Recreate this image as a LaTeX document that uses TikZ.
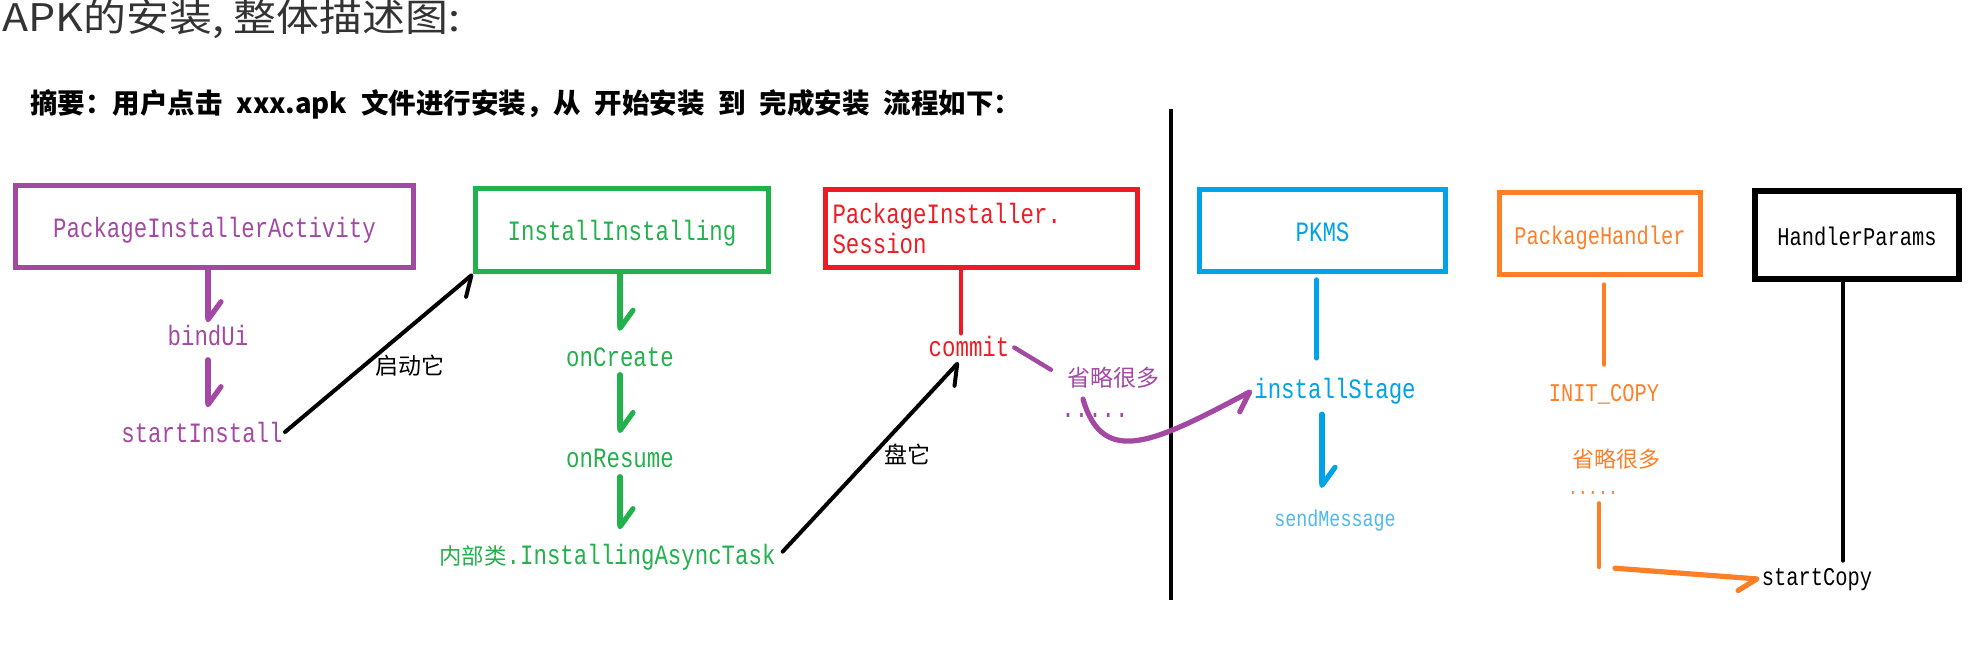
\documentclass[tikz,border=0pt]{standalone}
\usepackage{fontspec}
\setmonofont{Liberation Mono}[FakeStretch=0.8]
\newfontfamily\cjk{Noto Sans CJK SC}
\newfontfamily\cjkwide{Noto Sans CJK SC}[FakeStretch=1.13]
\usepackage{tikz}
\usetikzlibrary{arrows.meta}

\definecolor{apkpurple}{HTML}{A349A4}
\definecolor{apkgreen}{HTML}{22B14C}
\definecolor{apkred}{HTML}{ED1C24}
\definecolor{apkblue}{HTML}{00A2E8}
\definecolor{apklightblue}{HTML}{4FB8EE}
\definecolor{apkorange}{HTML}{FF7F27}
\definecolor{apkgray}{HTML}{333333}

\begin{document}
\begin{tikzpicture}[x=0.5pt, y=-0.5pt,
  frame/.style={draw, line width=2.5pt, inner sep=0pt, font=\ttfamily\fontsize{14}{15}\selectfont},
  box/.style={frame, text height=11pt, text depth=0pt},
  lbl/.style={inner sep=1pt, anchor=base, font=\ttfamily\fontsize{14}{15}\selectfont},
  small/.style={font=\ttfamily\fontsize{12.75}{14}\selectfont},
  note/.style={inner sep=1pt, font=\cjk\fontsize{11.5}{12}\selectfont},
  flow/.style={line width=2.6pt, line cap=round, line join=round, -{Straight Barb[harpoon,round,length=9pt,width=13pt]}},
  flowr/.style={line width=2.6pt, line cap=round, line join=round, -{Straight Barb[harpoon,swap,round,length=9pt,width=13pt]}},
  stem/.style={line width=2.2pt, line cap=round}]

  \useasboundingbox (0,0) rectangle (1980,652);

  \node[anchor=west, inner sep=1pt, text=apkgray, font=\cjkwide\fontsize{19}{20}\selectfont] (title) at (0,19) {APK的安装, 整体描述图:};
  \node[anchor=west, inner sep=1pt, font=\cjk\bfseries\fontsize{13.75}{14}\selectfont] (summary) at (28,104) {摘要：用户点击\enskip xxx.apk\enskip 文件进行安装，从\enskip 开始安装\enskip 到\enskip 完成安装\enskip 流程如下：};

  \node[box, draw=apkpurple, text=apkpurple, minimum width=199pt, minimum height=41pt] (pia) at (214.5,226.5) {PackageInstallerActivity};
  \node[box, draw=apkgreen, text=apkgreen, minimum width=146.5pt, minimum height=41.5pt] (ii) at (622,230) {InstallInstalling};
  \node[frame, draw=apkred, text=apkred, minimum width=156pt, minimum height=39pt, inner xsep=3.5pt, text width=149pt, align=left] (pis) at (981.5,228.5) {PackageInstaller.\\Session};
  \node[box, draw=apkblue, text=apkblue, minimum width=123pt, minimum height=41pt] (pkms) at (1322.5,230.5) {PKMS};
  \node[box, small, draw=apkorange, text=apkorange, minimum width=100.5pt, minimum height=41pt] (ph) at (1600,233.5) {PackageHandler};
  \node[box, small, draw=black, line width=2.9pt, minimum width=102pt, minimum height=44pt] (hp) at (1857,235) {HandlerParams};

  \node[lbl, text=apkpurple] (bindui) at (208,345) {bindUi};
  \node[lbl, text=apkpurple] (startinstall) at (202,442) {startInstall};
  \node[lbl, text=apkgreen] (oncreate) at (620,366) {onCreate};
  \node[lbl, text=apkgreen] (onresume) at (620,467) {onResume};
  \node[lbl, text=apkgreen] (async) at (607.5,564) {{\cjk\fontsize{11.2}{12}\selectfont 内部类}.InstallingAsyncTask};
  \node[lbl, text=apkred] (commit) at (969,356) {commit};
  \node[lbl, text=apkblue] (installstage) at (1335,398) {installStage};
  \node[lbl, text=apklightblue, font=\ttfamily\fontsize{11.5}{12}\selectfont] (sendmessage) at (1335,526) {sendMessage};
  \node[lbl, small, text=apkorange] (initcopy) at (1604,401) {INIT\_COPY};
  \node[lbl, small] (startcopy) at (1817,585) {startCopy};

  \node[note] (qidong) at (410,366) {启动它};
  \node[note] (panta) at (907,454) {盘它};
  \node[note, text=apkpurple] (omit1) at (1113,378) {省略很多};
  \node[lbl, text=apkpurple] (dots1) at (1095,417) {.....};
  \node[note, text=apkorange, font=\cjk\fontsize{11}{12}\selectfont] (omit2) at (1616,459) {省略很多};
  \node[lbl, text=apkorange, font=\ttfamily\fontsize{10.5}{11}\selectfont] (dots2) at (1593,494) {.....};

  \coordinate (divtop) at (1171,109);
  \coordinate (divbottom) at (1171,600);
  \coordinate (corner) at (1599,567);

  \draw[line width=2pt] (divtop) -- (divbottom);

  \draw[flow, apkpurple] (pia.south -| bindui) -- (bindui.north);
  \draw[flow, apkpurple, shorten <=6pt, shorten >=6pt] (bindui.south) -- (bindui.south |- startinstall.north);
  \draw[flowr, line width=2pt] (startinstall.east) -- (ii.south west);

  \draw[flow, apkgreen, shorten >=7pt] (ii.south -| oncreate) -- (oncreate.north);
  \draw[flow, apkgreen, shorten <=3pt, shorten >=6.5pt] (oncreate.south) -- (oncreate.south |- onresume.north);
  \draw[flow, apkgreen, shorten <=3.5pt, shorten >=6pt] (onresume.south) -- (onresume.south |- async.north);
  \draw[flowr, line width=2pt, shorten <=3.5pt, shorten >=2.5pt] (async.east) -- ([xshift=-3.5pt]commit.south);

  \draw[stem, apkred] ([xshift=-4pt]commit.north |- pis.south) -- ([xshift=-4pt]commit.north);
  \draw[stem, apkpurple, shorten <=1.5pt, shorten >=8pt] (commit.east) -- (omit1.west);
  \draw[flowr, apkpurple] ([xshift=-15pt,yshift=-4pt]omit1.south) .. controls +(20,70) and +(-95,50) .. (installstage.west);

  \draw[stem, apkblue, shorten <=2.75pt, shorten >=8.5pt] ([xshift=-3pt]pkms.south) -- ([xshift=-3pt]pkms.south |- installstage.north);
  \draw[flow, apkblue, shorten <=4pt, shorten >=9.5pt] ([xshift=-6.5pt]installstage.south) -- ([xshift=-6.5pt]sendmessage.north);

  \draw[stem, apkorange, shorten <=3.75pt, shorten >=8.5pt] (ph.south -| initcopy) -- (initcopy.north);
  \draw[stem, apkorange, shorten <=3.5pt] (dots2.south -| corner) -- (corner);
  \draw[flowr, apkorange, shorten <=8pt] (corner) -- (startcopy.west);

  \draw[stem, shorten >=2.5pt] ([xshift=-7pt]hp.south) -- ([xshift=-7pt]hp.south |- startcopy.north);

\end{tikzpicture}
\end{document}
